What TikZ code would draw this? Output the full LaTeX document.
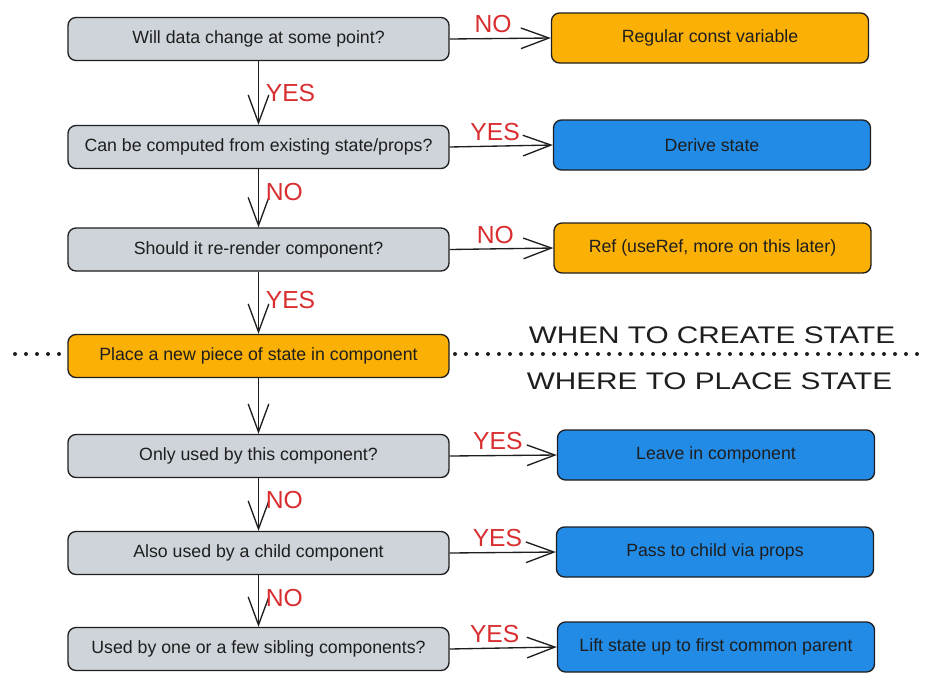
\documentclass[tikz,border=0pt]{standalone}
\usepackage{fontspec}
\setmainfont{Liberation Sans}
\usepackage{graphicx}
\usepackage{tikz}
\usetikzlibrary{arrows.meta}
\definecolor{boxgray}{RGB}{206,212,218}
\definecolor{boxorange}{RGB}{250,176,5}
\definecolor{boxblue}{RGB}{34,139,230}
\definecolor{answerred}{RGB}{216,46,48}
\definecolor{ink}{RGB}{30,30,30}
\tikzset{
	question/.style={draw=ink, line width=1pt, rounded corners=6pt, fill=boxgray, text=ink,
		minimum width=285.75pt, minimum height=32.25pt, font=\fontsize{13.3}{16}\selectfont},
	outcome/.style={draw=ink, line width=1pt, rounded corners=6pt, text=ink,
		minimum width=237.75pt, minimum height=37.5pt, font=\fontsize{13.3}{16}\selectfont},
	flow/.style={draw=ink, line width=1pt, -{Straight Barb[length=21pt, width=15.5pt]}},
	answer/.style={text=answerred, inner sep=1pt, font=\fontsize{18.5}{20}\selectfont},
	heading/.style={text=ink, inner sep=0pt, font=\fontsize{18}{20}\selectfont},
	separator/.style={draw=ink, line width=3pt, line cap=round, dash pattern=on 0pt off 8.25pt}
}

\begin{document}
\begin{tikzpicture}[x=0.75pt, y=-0.75pt]
		%%%%% START %%%%%
		\useasboundingbox (0, 0) rectangle (927, 682);
		
		\draw[separator] (15, 354) -- (918, 354);
		
		\node[heading] (whencreate) at (712, 335) {\scalebox{1.24}[1]{WHEN TO CREATE STATE}};
		\node[heading] (whereplace) at (709.5, 381) {\scalebox{1.24}[1]{WHERE TO PLACE STATE}};
		
		\node[question] (willchange) at (258.5, 39) {Will data change at some point?};
		\node[question] (computed) at (258.5, 147) {Can be computed from existing state/props?};
		\node[question] (rerender) at (258.5, 249.5) {Should it re-render component?};
		\node[question, fill=boxorange] (placestate) at (258.5, 356) {Place a new piece of state in component};
		\node[question] (onlyused) at (258.5, 456) {Only used by this component?};
		\node[question] (childused) at (258.5, 553) {Also used by a child component};
		\node[question] (siblings) at (258.5, 649) {Used by one or a few sibling components?};
		
		\node[outcome, fill=boxorange] (constvar) at (710, 38) {Regular const variable};
		\node[outcome, fill=boxblue] (derive) at (712, 145) {Derive state};
		\node[outcome, fill=boxorange] (useref) at (712.5, 248) {Ref (useRef, more on this later)};
		\node[outcome, fill=boxblue] (leave) at (716, 455) {Leave in component};
		\node[outcome, fill=boxblue] (passchild) at (715, 552) {Pass to child via props};
		\node[outcome, fill=boxblue] (liftup) at (716, 647) {Lift state up to first common parent};
		
		\draw[flow] (willchange.east) -- node[answer, above=2.5pt, pos=0.43] (no1) {NO} (constvar.west);
		\draw[flow] (willchange.south) -- node[answer, right=4pt, pos=0.5] (yes1) {YES} (computed.north);
		
		\draw[flow] (computed.east) -- node[answer, above=2.5pt, pos=0.44] (yes2) {YES} (derive.west);
		\draw[flow] (computed.south) -- node[answer, right=4pt, pos=0.4] (no2) {NO} (rerender.north);
		
		\draw[flow] (rerender.east) -- node[answer, above=2.5pt, pos=0.44] (no3) {NO} (useref.west);
		\draw[flow] (rerender.south) -- node[answer, right=4pt, pos=0.45] (yes3) {YES} (placestate.north);
		
		\draw[flow] (placestate.south) -- (onlyused.north);
		
		\draw[flow] (onlyused.east) -- node[answer, above=2.5pt, pos=0.45] (yes4) {YES} (leave.west);
		\draw[flow] (onlyused.south) -- node[answer, right=4pt, pos=0.42] (no4) {NO} (childused.north);
		
		\draw[flow] (childused.east) -- node[answer, above=2.5pt, pos=0.45] (yes5) {YES} (passchild.west);
		\draw[flow] (childused.south) -- node[answer, right=4pt, pos=0.45] (no5) {NO} (siblings.north);
		
		\draw[flow] (siblings.east) -- node[answer, above=2.5pt, pos=0.42] (yes6) {YES} (liftup.west);
		
		%%%%% END %%%%%
\end{tikzpicture}
\end{document}
